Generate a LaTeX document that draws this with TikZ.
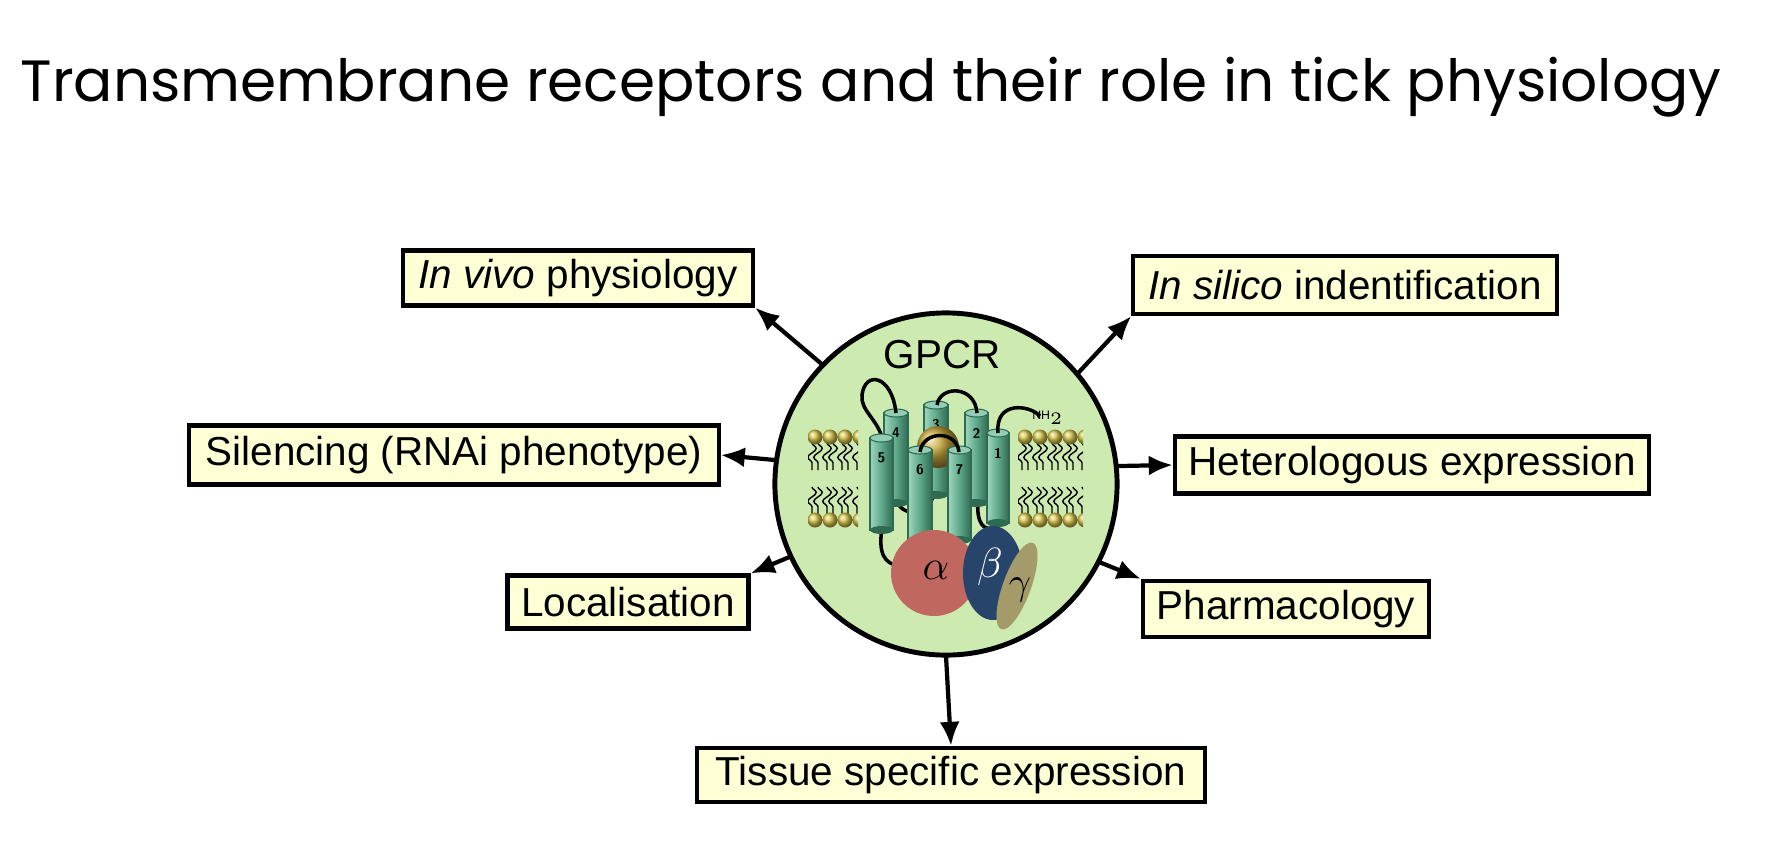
\documentclass[tikz,border=0pt]{standalone}
\usepackage{fontspec}
\setmainfont{Liberation Sans}
\newfontfamily\titlefont{Poppins}
\usetikzlibrary{arrows.meta,decorations.pathmorphing,shapes.geometric}
\definecolor{boxfill}{HTML}{FFFFD6}
\definecolor{gfill}{HTML}{CDEBB0}
\definecolor{helix}{HTML}{5FA88A}
\definecolor{helixd}{HTML}{2F6A52}
\definecolor{helixl}{HTML}{9FD6BE}
\definecolor{gold}{HTML}{C9A83A}
\definecolor{alphac}{HTML}{C0675F}
\definecolor{betac}{HTML}{27456B}
\definecolor{gammac}{HTML}{A59A6A}
\definecolor{lip}{HTML}{D8C74A}
\newcommand\mycyl[5]{% x1 x2 ytop ybot label
  \fill[left color=helixl,right color=helixd,middle color=helix,draw=helixd,line width=0.3pt] (#1,-#3) rectangle (#2,-#4);
  \fill[helixd] ({(#1+#2)/2},-#4) ellipse ({(#2-#1)/2} and 4);
  \fill[helixl!80!helix,draw=helixd,line width=0.3pt] ({(#1+#2)/2},-#3) ellipse ({(#2-#1)/2} and 4);
  \node[font=\sffamily\bfseries\fontsize{4}{4}\selectfont] at ({(#1+#2)/2},{-#3-20}) {#5};}
\begin{document}
\begin{tikzpicture}[x=0.01cm,y=0.01cm,
  box/.style={draw=black,line width=1.2pt,fill=boxfill,font=\fontsize{11.5}{13}\selectfont,inner sep=0pt},
  arr/.style={line width=1.2pt,-{Latex[length=0.24cm,width=0.2cm]}}]
\useasboundingbox (0,0) rectangle (1768,-866);
\node[anchor=base west,inner sep=0pt] (title) at (20,-101) {\resizebox{17cm}{!}{\titlefont\fontseries{l}\selectfont Transmembrane receptors and their role in tick physiology}};
\node[circle,draw=black,line width=1.4pt,fill=gfill,minimum size=3.42cm,inner sep=0pt] (g) at (946,-484) {};
\node[circle,minimum size=3.42cm,inner sep=0pt] (gc) at (946,-484) {};
\node[font=\fontsize{11.5}{13}\selectfont] (gl) at (942,-355) {GPCR};
% lipids
\begin{scope}
\clip (808,-425) rectangle (858,-530);
\foreach \x in {815,830,845,860}{
  \foreach \dx in {-3,3}{
   \draw[line width=0.4pt,decorate,decoration={snake,segment length=5,amplitude=1.2}] (\x+\dx,-443) -- (\x+\dx,-470);
   \draw[line width=0.4pt,decorate,decoration={snake,segment length=5,amplitude=1.2}] (\x+\dx,-487) -- (\x+\dx,-514);}
  \shade[ball color=lip] (\x,-437) circle (7.5);
  \shade[ball color=lip] (\x,-520) circle (7.5);}
\end{scope}
\begin{scope}
\clip (1018,-425) rectangle (1083,-530);
\foreach \x in {1025,1040,1055,1070,1085}{
  \foreach \dx in {-3,3}{
   \draw[line width=0.4pt,decorate,decoration={snake,segment length=5,amplitude=1.2}] (\x+\dx,-443) -- (\x+\dx,-470);
   \draw[line width=0.4pt,decorate,decoration={snake,segment length=5,amplitude=1.2}] (\x+\dx,-487) -- (\x+\dx,-514);}
  \shade[ball color=lip] (\x,-437) circle (7.5);
  \shade[ball color=lip] (\x,-520) circle (7.5);}
\end{scope}
% loops behind
\draw[line width=1pt] (897,-500) .. controls (900,-517) and (930,-517) .. (933,-495);
\draw[line width=1pt] (978,-500) .. controls (976,-525) and (985,-530) .. (992,-528);
\draw[line width=1pt] (882,-528) .. controls (878,-555) and (885,-562) .. (897,-566);
% helices
\mycyl{924}{948}{405}{495}{3}
\mycyl{884}{908}{413}{503}{4}
\mycyl{965}{988}{413}{503}{2}
\draw[line width=1pt] (937,-405) .. controls (940,-385) and (975,-385) .. (977,-413);
\draw[line width=1pt] (896,-413) .. controls (892,-375) and (865,-370) .. (862,-395) .. controls (860,-410) and (878,-420) .. (882,-438);
\shade[ball color=gold] (938,-447) circle (21);
\mycyl{870}{893}{438}{530}{5}
\mycyl{987}{1009}{433}{523}{1}
\mycyl{908}{932}{450}{540}{6}
\mycyl{948}{971}{450}{540}{7}
\draw[line width=1pt] (920,-452) .. controls (923,-430) and (957,-430) .. (959,-452);
\draw[line width=1pt] (998,-433) .. controls (995,-400) and (1030,-405) .. (1040,-416);
\node[font=\fontsize{3.5}{4}\selectfont,inner sep=0pt] (nh) at (1048,-418) {NH$_2$};
% G protein
\fill[alphac] (934,-573) circle (43);
\node[font=\fontsize{12}{12}\selectfont] (al) at (936,-570) {$\alpha$};
\fill[betac] (993,-573) ellipse (30 and 47);
\node[font=\fontsize{12}{12}\selectfont,text=white] (be) at (990,-567) {$\beta$};
\fill[gammac,rotate around={-20:(1017,-586)}] (1017,-586) ellipse (14 and 46);
\node[font=\fontsize{11}{11}\selectfont] (ga) at (1020,-590) {$\gamma$};
% boxes
\node[box,minimum width=3.50cm,minimum height=0.55cm] (vivo) at (578,-278) {\textit{In vivo} physiology};
\node[box,minimum width=4.23cm,minimum height=0.58cm] (silico) at (1345,-285) {\textit{In silico} indentification};
\node[box,minimum width=5.29cm,minimum height=0.59cm] (silen) at (454,-455) {Silencing (RNAi phenotype)};
\node[box,minimum width=4.74cm,minimum height=0.57cm] (hetero) at (1412,-465) {Heterologous expression};
\node[box,minimum width=2.41cm,minimum height=0.53cm] (local) at (628,-602) {Localisation};
\node[box,minimum width=2.86cm,minimum height=0.56cm] (pharm) at (1286,-609) {Pharmacology};
\node[box,minimum width=5.08cm,minimum height=0.54cm] (tissue) at (951,-775) {Tissue specific expression};
% arrows
\draw[arr] (gc.136) -- (vivo.south east);
\draw[arr] (gc.40) -- (silico.south west);
\draw[arr] (gc.172) -- (silen.east);
\draw[arr] (gc.6) -- (hetero.west);
\draw[arr] (gc.205) -- (local.north east);
\draw[arr] (gc.-27) -- (pharm.north west);
\draw[arr] (gc.270) -- (tissue.north);
\end{tikzpicture}
\end{document}
